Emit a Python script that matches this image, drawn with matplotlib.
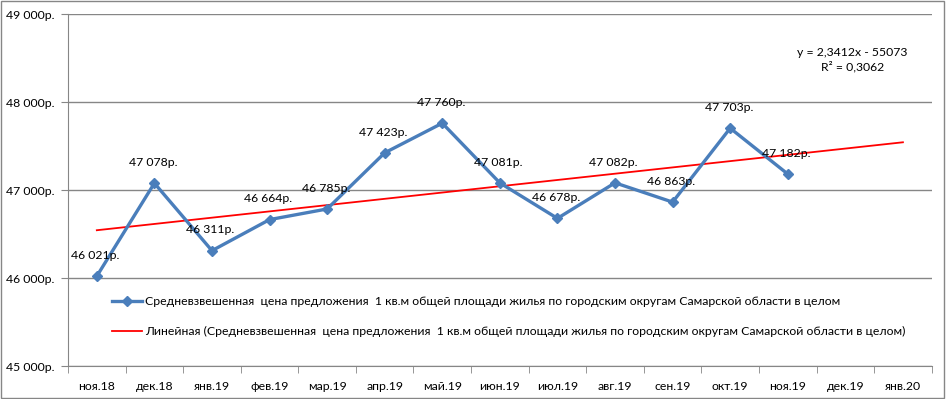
import numpy as np
import matplotlib.pyplot as plt
from matplotlib.patches import Rectangle

plt.rcParams['font.family'] = ['Lato', 'DejaVu Sans']

# months on the category axis
months = ['ноя.18', 'дек.18', 'янв.19', 'фев.19', 'мар.19', 'апр.19', 'май.19',
          'июн.19', 'июл.19', 'авг.19', 'сен.19', 'окт.19', 'ноя.19', 'дек.19', 'янв.20']
# average weighted offer price, rub per sq.m
prices = [46021, 47078, 46311, 46664, 46785, 47423, 47760,
          47081, 46678, 47082, 46863, 47703, 47182]

series_name = 'Средневзвешенная  цена предложения  1 кв.м общей площади жилья по городским округам Самарской области в целом'
trend_name = 'Линейная (Средневзвешенная  цена предложения  1 кв.м общей площади жилья по городским округам Самарской области в целом)'
equation = 'y = 2,3412x - 55073\nR² = 0,3062'

FS = 8.8

def rub(v):
    return '{:,}р.'.format(int(v)).replace(',', ' ')

fig = plt.figure(figsize=(9.46, 3.99), dpi=100)
ax = fig.add_axes([0.0719, 0.0827, 0.913, 0.882])

x = np.arange(len(prices))
xt = np.arange(len(months))

# linear trend over the whole category range
k, b = np.polyfit(x, prices, 1)
ax.plot([xt[0], xt[-1]], [k * xt[0] + b, k * xt[-1] + b], color='#ff0000', lw=1.3,
        label=trend_name, zorder=3)

ax.plot(x, prices, color='#4a7ebb', lw=2.4, marker='D', ms=5, label=series_name, zorder=4)

for xi, v in zip(x, prices):
    ax.annotate(rub(v), (xi, v), xytext=(-1, 11), textcoords='offset points',
                ha='center', va='bottom', fontsize=FS, color='black', zorder=5)

ax.set_xlim(-0.5, len(months) - 0.5)
ax.set_ylim(45000, 49000)
ax.set_yticks(np.arange(45000, 49001, 1000))
ax.set_yticklabels([rub(v) for v in np.arange(45000, 49001, 1000)], fontsize=FS)
ax.set_xticks(xt)
ax.set_xticklabels(months, fontsize=FS)
ax.set_xticks(np.arange(-0.5, len(months)), minor=True)
ax.tick_params(axis='x', which='major', length=0, pad=11)
ax.tick_params(axis='x', which='minor', length=5, color='#868686', direction='out')
ax.tick_params(axis='y', length=5, color='#868686', direction='out', pad=5)

ax.grid(axis='y', color='#868686', lw=1)
ax.set_axisbelow(True)
for s in ['top', 'right']:
    ax.spines[s].set_visible(False)
for s in ['left', 'bottom']:
    ax.spines[s].set_color('#868686')

h, l = ax.get_legend_handles_labels()
ax.legend(h[::-1], l[::-1], loc='lower left', bbox_to_anchor=(0.038, 0.05), frameon=False,
          fontsize=FS, handlelength=2.5, handletextpad=0.2, labelspacing=1.6)

ax.text(0.908, 0.87, equation, transform=ax.transAxes, ha='center', va='center',
        fontsize=FS, linespacing=1.3)

fig.patches.append(Rectangle((0.001, 0.002), 0.997, 0.995, transform=fig.transFigure,
                             fill=False, edgecolor='#868686', lw=1))

fig.savefig('out.png', dpi=100)
